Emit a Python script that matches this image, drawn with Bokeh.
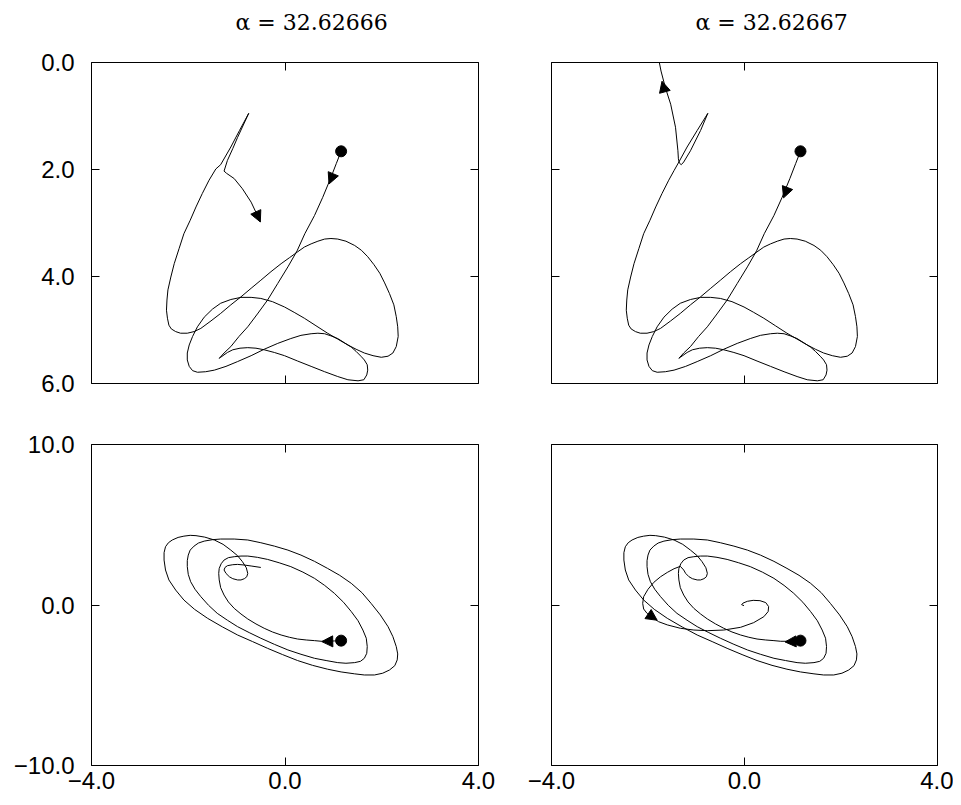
from bokeh.plotting import figure
from bokeh.layouts import column, row
from bokeh.models import Range1d, LinearAxis, FixedTicker, Arrow, NormalHead, Title
from bokeh.embed import file_html
from bokeh.resources import INLINE

# ---------------- data ----------------
titles = ["α = 32.62666", "α = 32.62667"]

x_ticks = [-4, 0, 4]
x_tick_labels = ["−4.0", "0.0", "4.0"]
top_y_ticks = [0, 2, 4, 6]
top_y_tick_labels = ["0.0", "2.0", "4.0", "6.0"]
bot_y_ticks = [-10, 0, 10]
bot_y_tick_labels = ["−10.0", "0.0", "10.0"]

# top row (x vs y, y axis inverted 0..6): part shared by both panels
top_common_x = [1.16, 1.06, 0.94, 0.78, 0.61, 0.41, 0.25, 0.06, -0.15, -0.36,
                -0.57, -0.77, -0.95, -1.12, -1.26, -1.36, -1.33, -1.19, -1.08, -0.93,
                -0.77, -0.60, -0.43, -0.22, -0.01, 0.26, 0.54, 0.82, 1.09, 1.30,
                1.51, 1.63, 1.69, 1.71, 1.70, 1.64, 1.58, 1.47, 1.37, 1.23,
                1.09, 0.95, 0.82, 0.68, 0.54, 0.33, 0.12, -0.15, -0.43, -0.70,
                -0.98, -1.22, -1.46, -1.64, -1.81, -1.91, -1.98, -2.02, -2.02, -1.98,
                -1.91, -1.81, -1.67, -1.50, -1.33, -1.12, -0.91, -0.70, -0.50, -0.26,
                -0.01, 0.19, 0.40, 0.64, 0.88, 1.09, 1.30, 1.47, 1.64, 1.82,
                1.99, 2.13, 2.23, 2.30, 2.34, 2.33, 2.30, 2.25, 2.16, 2.06,
                1.96, 1.84, 1.71, 1.58, 1.44, 1.26, 1.09, 0.95, 0.82, 0.68,
                0.54, 0.40, 0.26, 0.09, -0.08, -0.29, -0.50, -0.70, -0.91, -1.12,
                -1.33, -1.53, -1.74, -1.88, -2.02, -2.16, -2.26, -2.35, -2.40, -2.43,
                -2.45, -2.44, -2.42, -2.36, -2.29, -2.19, -2.09, -1.96, -1.84, -1.71,
                -1.57]
top_common_y = [1.66, 1.89, 2.17, 2.52, 2.86, 3.20, 3.52, 3.82, 4.13, 4.44,
                4.70, 4.94, 5.12, 5.31, 5.43, 5.53, 5.51, 5.42, 5.37, 5.34,
                5.33, 5.34, 5.37, 5.42, 5.48, 5.58, 5.68, 5.78, 5.87, 5.93,
                5.95, 5.93, 5.84, 5.75, 5.65, 5.56, 5.50, 5.40, 5.32, 5.24,
                5.16, 5.11, 5.07, 5.06, 5.07, 5.10, 5.16, 5.25, 5.36, 5.48,
                5.59, 5.68, 5.75, 5.78, 5.79, 5.76, 5.68, 5.56, 5.43, 5.28,
                5.12, 4.94, 4.76, 4.61, 4.50, 4.43, 4.39, 4.39, 4.41, 4.47,
                4.57, 4.67, 4.78, 4.92, 5.06, 5.17, 5.28, 5.36, 5.43, 5.48,
                5.51, 5.49, 5.43, 5.31, 5.12, 4.94, 4.75, 4.53, 4.32, 4.12,
                3.94, 3.78, 3.63, 3.51, 3.42, 3.34, 3.30, 3.29, 3.30, 3.34,
                3.39, 3.45, 3.54, 3.65, 3.76, 3.91, 4.07, 4.22, 4.38, 4.53,
                4.69, 4.83, 4.97, 5.03, 5.06, 5.06, 5.03, 4.98, 4.91, 4.78,
                4.63, 4.44, 4.25, 4.01, 3.76, 3.48, 3.20, 2.95, 2.70, 2.45,
                2.20]

# tail of the top-left trajectory (alpha = 32.62666)
tl_tail_x = [-1.43, -1.33, -1.12, -0.94, -0.75, -0.98, -1.08, -1.19, -1.26, -1.21,
             -1.05, -0.88, -0.70, -0.57, -0.51]
tl_tail_y = [1.99, 1.91, 1.58, 1.27, 0.95, 1.40, 1.61, 1.83, 2.03, 2.07,
             2.17, 2.36, 2.61, 2.86, 2.98]

# tail of the top-right trajectory (alpha = 32.62667)
tr_tail_x = [-1.46, -1.36, -1.19, -0.98, -0.76, -0.91, -1.12, -1.26, -1.31, -1.35,
             -1.37, -1.38, -1.43, -1.53, -1.64, -1.73, -1.80]
tr_tail_y = [2.02, 1.86, 1.58, 1.27, 0.95, 1.27, 1.65, 1.86, 1.91, 1.88,
             1.80, 1.65, 1.21, 0.78, 0.47, 0.16, -0.16]

# bottom row (x vs z, -10..10): part shared by both panels
bot_common_x = [1.16, 1.02, 0.88, 0.75, 0.61, 0.44, 0.26, 0.09, -0.08, -0.26,
                -0.43, -0.60, -0.77, -0.91, -1.05, -1.17, -1.26, -1.33, -1.36, -1.37,
                -1.36, -1.32, -1.26, -1.17, -1.05, -0.91, -0.77, -0.57, -0.36, -0.12,
                0.12, 0.37, 0.61, 0.82, 1.02, 1.21, 1.37, 1.51, 1.61, 1.68,
                1.70, 1.69, 1.64, 1.56, 1.44, 1.26, 1.09, 0.85, 0.61, 0.33,
                0.06, -0.22, -0.50, -0.74, -0.98, -1.19, -1.40, -1.58, -1.74, -1.86,
                -1.95, -2.00, -2.02, -2.02, -2.00, -1.96, -1.88, -1.79, -1.67, -1.50,
                -1.33, -1.05, -0.77, -0.50, -0.22, 0.06, 0.33, 0.61, 0.88, 1.13,
                1.37, 1.59, 1.78, 1.97, 2.13, 2.23, 2.30, 2.33, 2.32, 2.27,
                2.16, 2.02, 1.85, 1.64, 1.44, 1.16, 0.88, 0.57, 0.26, -0.05,
                -0.36, -0.67, -0.98, -1.29, -1.60, -1.87, -2.09, -2.26, -2.40, -2.47,
                -2.50, -2.50, -2.47, -2.41, -2.33, -2.21, -2.09, -1.96, -1.84, -1.66,
                -1.46, -1.28, -1.12, -0.98, -0.88, -0.80, -0.77, -0.79, -0.84, -0.91,
                -0.98, -1.08, -1.15, -1.22, -1.26]
bot_common_y = [-2.22, -2.24, -2.26, -2.26, -2.22, -2.18, -2.12, -2.01, -1.87, -1.68,
                -1.45, -1.18, -0.87, -0.56, -0.21, 0.19, 0.62, 1.08, 1.56, 1.97,
                2.28, 2.57, 2.80, 2.95, 3.01, 3.05, 3.05, 2.97, 2.84, 2.63,
                2.39, 2.05, 1.66, 1.22, 0.73, 0.17, -0.41, -0.98, -1.56, -2.07,
                -2.59, -3.01, -3.32, -3.51, -3.59, -3.63, -3.59, -3.46, -3.32, -3.07,
                -2.80, -2.45, -2.07, -1.72, -1.35, -0.95, -0.52, -0.02, 0.52, 0.98,
                1.45, 1.91, 2.39, 2.76, 3.11, 3.42, 3.67, 3.86, 3.98, 4.07,
                4.11, 4.11, 4.05, 3.88, 3.67, 3.42, 3.11, 2.72, 2.28, 1.85,
                1.35, 0.77, 0.10, -0.62, -1.35, -1.97, -2.59, -3.05, -3.42, -3.78,
                -4.05, -4.25, -4.36, -4.36, -4.29, -4.17, -4.00, -3.76, -3.46, -3.09,
                -2.70, -2.28, -1.87, -1.37, -0.83, -0.27, 0.31, 0.93, 1.56, 2.18,
                2.80, 3.26, 3.63, 3.88, 4.05, 4.21, 4.29, 4.34, 4.32, 4.23,
                4.05, 3.78, 3.42, 3.07, 2.70, 2.32, 1.97, 1.76, 1.64, 1.56,
                1.56, 1.64, 1.76, 1.97, 2.18]

bl_tail_x = [-1.24, -1.19, -1.08, -0.98, -0.84, -0.70, -0.50]
bl_tail_y = [2.34, 2.45, 2.51, 2.53, 2.49, 2.43, 2.34]

br_tail_x = [-1.33, -1.46, -1.60, -1.74, -1.88, -2.00, -2.09, -2.11, -2.09, -2.02,
             -1.91, -1.78, -1.60, -1.33, -1.05, -0.77, -0.43, -0.08, 0.19, 0.40,
             0.49, 0.50, 0.44, 0.32, 0.18, 0.06, -0.03, -0.06, -0.01]
br_tail_y = [2.41, 2.26, 2.03, 1.76, 1.41, 0.98, 0.52, 0.10, -0.25, -0.52,
             -0.77, -1.04, -1.24, -1.45, -1.56, -1.60, -1.56, -1.39, -1.10, -0.73,
             -0.41, -0.10, 0.15, 0.27, 0.29, 0.23, 0.12, 0.02, -0.04]

# arrow heads: (x_start, y_start, x_end, y_end)
tl_arrows = [(1.04, 1.99, 0.91, 2.27), (-0.60, 2.80, -0.51, 2.98)]
tr_arrows = [(0.92, 2.27, 0.81, 2.53), (-1.62, 0.65, -1.71, 0.35)]
bl_arrows = [(1.09, -2.26, 0.76, -2.28)]
br_arrows = [(1.13, -2.26, 0.84, -2.30), (-2.02, -0.52, -1.81, -0.95)]

# ---------------- styling ----------------
LABEL_FONT = "Liberation Sans"
LABEL_SIZE = "24px"
FRAME_H = 321


def hidden_axis(ticks, tick_in=8, tick_out=0, tick_color="black"):
    ax = LinearAxis(ticker=FixedTicker(ticks=ticks))
    ax.major_label_text_font_size = "0px"
    ax.major_label_text_color = None
    ax.major_label_standoff = 0
    ax.major_tick_in = tick_in
    ax.major_tick_out = tick_out
    ax.minor_tick_line_color = None
    ax.axis_line_color = None
    ax.major_tick_line_color = tick_color
    return ax


def label_axis(ticks, labels, standoff):
    ax = LinearAxis(ticker=FixedTicker(ticks=ticks))
    ax.major_label_overrides = {t: l for t, l in zip(ticks, labels)}
    ax.major_label_text_font = LABEL_FONT
    ax.major_label_text_font_size = LABEL_SIZE
    ax.major_label_text_color = "black"
    ax.major_label_standoff = standoff
    ax.major_tick_in = 8
    ax.major_tick_out = 0
    ax.minor_tick_line_color = None
    ax.axis_line_color = None
    ax.major_tick_line_color = "black"
    return ax


def panel(xs, ys, arrows, top, left, bottom_labels, title, width, height, borders):
    bl, br, bt, bb = borders
    yr = Range1d(6, 0) if top else Range1d(-10, 10)
    yt = top_y_ticks if top else bot_y_ticks
    ylab = top_y_tick_labels if top else bot_y_tick_labels
    p = figure(width=width, height=height, x_range=Range1d(-4, 4), y_range=yr,
               output_backend="svg", toolbar_location=None, x_axis_location=None,
               y_axis_location=None, min_border_left=bl, min_border_right=br,
               min_border_top=bt, min_border_bottom=bb)
    p.grid.visible = False
    p.outline_line_color = "black"
    p.outline_line_width = 1
    p.background_fill_color = "white"
    p.border_fill_color = "white"

    if left:
        p.add_layout(label_axis(yt, ylab, 17), "left")
    else:
        p.add_layout(hidden_axis(yt), "left")
    p.add_layout(hidden_axis(yt), "right")
    if bottom_labels:
        p.add_layout(label_axis(x_ticks, x_tick_labels, 6), "below")
    else:
        p.add_layout(hidden_axis(x_ticks), "below")
    p.add_layout(hidden_axis(x_ticks), "above")

    if title:
        # invisible spacer between the frame and the title
        p.add_layout(hidden_axis(x_ticks, tick_in=0, tick_out=23, tick_color=None), "above")
        p.add_layout(Title(text=title, align="left", offset=144, standoff=10,
                           text_font="DejaVu Serif", text_font_size="22px",
                           text_font_style="normal", text_color="black"), "above")

    p.line(xs, ys, line_color="black", line_width=1)
    p.scatter([xs[0]], [ys[0]], size=11, color="black")
    for (x0, y0, x1, y1) in arrows:
        p.add_layout(Arrow(end=NormalHead(size=11, fill_color="black", line_color="black",
                                          line_width=1),
                           x_start=x0, y_start=y0, x_end=x1, y_end=y1,
                           line_alpha=0))
    return p


TL_B = (91, 37, 62, 30)
TR_B = (36, 16, 62, 30)
BL_B = (91, 37, 31, 34)
BR_B = (36, 16, 31, 34)

p1 = panel(top_common_x + tl_tail_x, top_common_y + tl_tail_y, tl_arrows, True, True, False,
           titles[0], 515, 62 + FRAME_H + 30, TL_B)
p2 = panel(top_common_x + tr_tail_x, top_common_y + tr_tail_y, tr_arrows, True, False, False,
           titles[1], 438, 62 + FRAME_H + 30, TR_B)
p3 = panel(bot_common_x + bl_tail_x, bot_common_y + bl_tail_y, bl_arrows, False, True, True,
           None, 515, 31 + FRAME_H + 34, BL_B)
p4 = panel(bot_common_x + br_tail_x, bot_common_y + br_tail_y, br_arrows, False, False, True,
           None, 438, 31 + FRAME_H + 34, BR_B)

layout = column(row(p1, p2), row(p3, p4))

open("out.html", "w").write(file_html(layout, INLINE))
